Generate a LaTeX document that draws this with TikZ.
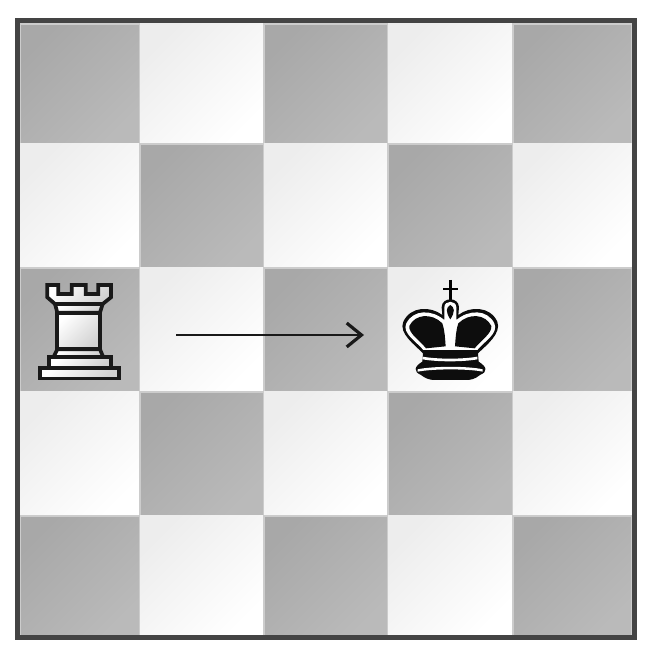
\documentclass[tikz,border=0pt]{standalone}
\usetikzlibrary{arrows.meta}
\definecolor{frameGray}{HTML}{444444}
\definecolor{darkStart}{HTML}{A8A8A8}
\definecolor{darkEnd}{HTML}{BABABA}
\definecolor{lightStart}{HTML}{EDEDED}
\definecolor{lightEnd}{HTML}{FFFFFF}
\tikzset{
	darkSquare/.style={left color=darkStart, right color=darkEnd, shading angle=45, draw=black!20, line width=0.4pt},
	lightSquare/.style={left color=lightStart, right color=lightEnd, shading angle=45},
	pieceLine/.style={draw=black!90, line width=1.05pt, line join=miter},
	rookFill/.style={pieceLine, left color=white, right color=black!18, shading angle=45},
	kingBlack/.style={fill=black!95},
	moveArrow/.style={-{Straight Barb[length=4.2pt,width=6.8pt,line width=0.9pt]}, draw=black!90, line width=0.8pt}
}

\begin{document}
\begin{tikzpicture}[x=0.01cm, y=-0.01cm]

	% page
	\useasboundingbox (0,0) rectangle (660,652);
	\fill[white] (0,0) rectangle (660,652);

	% row 1
	\path[darkSquare] (20,24) rectangle (140,144);
	\path[lightSquare] (140,24) rectangle (264,144);
	\path[darkSquare] (264,24) rectangle (388,144);
	\path[lightSquare] (388,24) rectangle (513,144);
	\path[darkSquare] (513,24) rectangle (632,144);

	% row 2
	\path[lightSquare] (20,144) rectangle (140,268);
	\path[darkSquare] (140,144) rectangle (264,268);
	\path[lightSquare] (264,144) rectangle (388,268);
	\path[darkSquare] (388,144) rectangle (513,268);
	\path[lightSquare] (513,144) rectangle (632,268);

	% row 3
	\path[darkSquare] (20,268) rectangle (140,392);
	\path[lightSquare] (140,268) rectangle (264,392);
	\path[darkSquare] (264,268) rectangle (388,392);
	\path[lightSquare] (388,268) rectangle (513,392);
	\path[darkSquare] (513,268) rectangle (632,392);

	% row 4
	\path[lightSquare] (20,392) rectangle (140,516);
	\path[darkSquare] (140,392) rectangle (264,516);
	\path[lightSquare] (264,392) rectangle (388,516);
	\path[darkSquare] (388,392) rectangle (513,516);
	\path[lightSquare] (513,392) rectangle (632,516);

	% row 5
	\path[darkSquare] (20,516) rectangle (140,636);
	\path[lightSquare] (140,516) rectangle (264,636);
	\path[darkSquare] (264,516) rectangle (388,636);
	\path[lightSquare] (388,516) rectangle (513,636);
	\path[darkSquare] (513,516) rectangle (632,636);

	% frame
	\draw[frameGray, line width=0.05cm] (17.5,20.5) rectangle (634.5,637.5);

	% rook
	\begin{scope}[shift={(20,270)}, scale=0.3333]
		\path[rookFill] (82,45) -- (115,45) -- (115,72) -- (155,72) -- (155,45) -- (197,45) -- (197,72) -- (235,72) -- (235,45) -- (273,45) -- (273,82) -- (248,102) -- (105,102) -- (82,82) -- cycle;
		\path[rookFill] (105,102) -- (248,102) -- (240,128) -- (112,128) -- cycle;
		\path[rookFill] (112,128) rectangle (240,238);
		\path[rookFill] (112,238) -- (240,238) -- (250,262) -- (100,262) -- cycle;
		\path[rookFill] (88,262) rectangle (272,295);
		\path[rookFill] (60,295) rectangle (298,326);
	\end{scope}

	% king
	\begin{scope}[shift={(390,270)}, scale=0.3333]
		% cross
		\draw[black, line width=0.8pt] (181,30) -- (181,92);
		\draw[black, line width=0.8pt] (160,57) -- (203,57);
		% silhouette
		\fill[kingBlack] (155,112) .. controls (155,80) and (207,80) .. (207,112) -- (205,135) .. controls (240,108) and (300,108) .. (322,155) .. controls (335,190) and (290,225) .. (264,250) -- (266,275) .. controls (290,290) and (295,305) .. (270,315) .. controls (255,328) and (240,330) .. (230,330) -- (132,330) .. controls (120,330) and (105,325) .. (93,315) .. controls (70,305) and (72,290) .. (97,275) -- (99,250) .. controls (75,225) and (25,190) .. (40,155) .. controls (62,108) and (122,108) .. (157,135) -- cycle;
		% rings
		\fill[white] (181,240) -- (100,240) .. controls (80,215) and (35,190) .. (49,160) .. controls (70,118) and (125,118) .. (163,150) -- (163,112) .. controls (163,90) and (199,90) .. (199,112) -- (199,150) .. controls (237,118) and (292,118) .. (313,160) .. controls (327,190) and (282,215) .. (262,240) -- cycle;
		% lobes
		\fill[kingBlack] (157,160) .. controls (125,128) and (75,132) .. (58,168) .. controls (55,190) and (90,212) .. (108,235) -- (167,229) .. controls (165,205) and (165,185) .. (157,160) -- cycle;
		\fill[kingBlack] (205,160) .. controls (237,128) and (287,132) .. (304,168) .. controls (307,190) and (272,212) .. (254,235) -- (195,229) .. controls (197,205) and (197,185) .. (205,160) -- cycle;
		% finial
		\fill[kingBlack] (181,105) .. controls (168,112) and (166,125) .. (181,148) .. controls (196,125) and (194,112) .. (181,105) -- cycle;
		% base stripes
		\fill[white] (98,260) .. controls (140,268) and (220,268) .. (262,260) -- (262,268) .. controls (220,276) and (140,276) .. (98,268) -- cycle;
		\fill[white] (83,298) .. controls (130,288) and (235,288) .. (278,298) -- (278,305) .. controls (235,296) and (130,296) .. (83,305) -- cycle;
	\end{scope}

	% move arrow
	\coordinate (moveStart) at (176,335);
	\coordinate (moveEnd) at (364,335);
	\draw[moveArrow] (moveStart) -- (moveEnd);

\end{tikzpicture}
\end{document}
